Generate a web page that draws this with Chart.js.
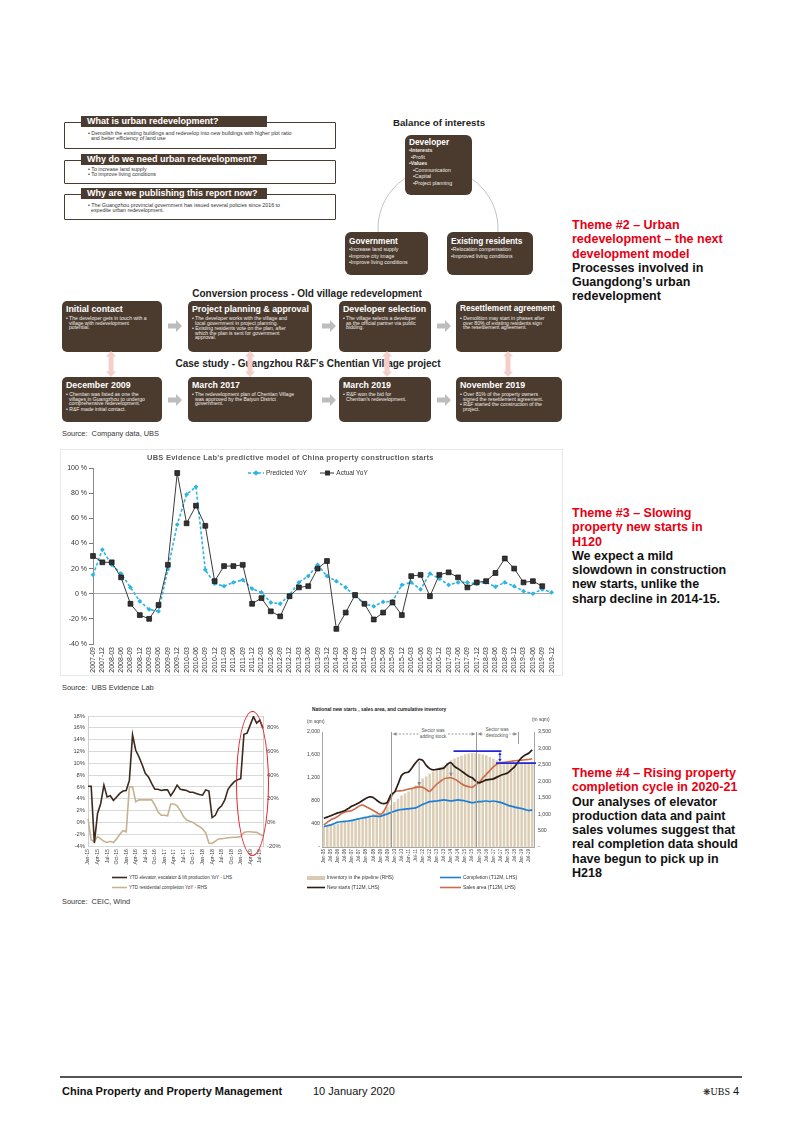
<!DOCTYPE html>
<html><head><meta charset="utf-8">
<script src="https://cdn.jsdelivr.net/npm/chart.js@4.4.1/dist/chart.umd.min.js"></script>
<style>
html,body{margin:0;padding:0;background:#fff;}
body{width:802px;height:1133px;position:relative;overflow:hidden;font-family:"Liberation Sans",Arial,sans-serif;color:#222;}
.a{position:absolute;white-space:nowrap;}
.frame{position:absolute;border:1.4px solid #4b3b2f;box-sizing:border-box;border-radius:1px;}
.hdr{position:absolute;background:#4b3b2f;color:#fff;font-weight:bold;font-size:9px;height:11px;line-height:11px;padding-left:6px;box-sizing:border-box;white-space:nowrap;width:186px;left:81px;}
.bt{position:absolute;font-size:5.3px;line-height:5.2px;color:#333;white-space:nowrap;left:88px;}
.box{position:absolute;background:#4b3b2f;color:#fff;border-radius:5px;box-sizing:border-box;padding:3px 4px 0 4px;overflow:hidden;}
.box .t{font-weight:bold;font-size:8.8px;line-height:10px;white-space:nowrap;}
.box .b{font-size:5.1px;line-height:4.7px;margin-top:2px;color:#f0ece8;white-space:nowrap;padding-left:3px;text-indent:-3px;}
.bal{position:absolute;background:#4b3b2f;color:#fff;border-radius:6px;box-sizing:border-box;padding:4px 4px 0 4px;}
.bal .t{font-weight:bold;font-size:8.3px;line-height:10px;white-space:nowrap;}
.bal .i{font-size:5.2px;line-height:6.5px;white-space:nowrap;color:#f0ece8;}
.ttl{position:absolute;font-weight:bold;font-size:10px;color:#222;white-space:nowrap;transform:translateX(-50%);}
.src{position:absolute;left:62px;font-size:7.4px;color:#333;white-space:nowrap;}
.theme{position:absolute;left:572px;font-weight:bold;font-size:12.5px;line-height:14.3px;white-space:nowrap;color:#111;}
.theme .r{color:#e60012;}
.lg{position:absolute;font-size:4.6px;color:#333;white-space:nowrap;line-height:6px;}
.sw{display:inline-block;vertical-align:middle;margin-right:2px;}
</style></head>
<body>

<!-- Top-left question boxes -->
<div class="frame" style="left:64px;top:121.5px;width:272px;height:27px"></div>
<div class="hdr" style="top:116px">What is urban redevelopment?</div>
<div class="bt" style="top:130.5px">• Demolish the existing buildings and redevelop into new buildings with higher plot ratio<br>&nbsp;&nbsp;and better efficiency of land use</div>
<div class="frame" style="left:64px;top:159.5px;width:272px;height:24px"></div>
<div class="hdr" style="top:154px">Why do we need urban redevelopment?</div>
<div class="bt" style="top:167px">• To increase land supply<br>• To improve living conditions</div>
<div class="frame" style="left:64px;top:193.5px;width:272px;height:26px"></div>
<div class="hdr" style="top:188px">Why are we publishing this report now?</div>
<div class="bt" style="top:203px">• The Guangzhou provincial government has issued several policies since 2016 to<br>&nbsp;&nbsp;expedite urban redevelopment.</div>

<!-- Balance of interests -->
<div class="ttl" style="left:439px;top:117px;font-size:9.7px">Balance of interests</div>
<svg class="a" style="left:0;top:0" width="802" height="300"><path d="M 378.1 232 A 60 60 0 1 1 497.9 232" fill="none" stroke="#c4c4c4" stroke-width="1"/></svg>
<div class="bal" style="left:405px;top:135px;width:67px;height:60px;padding-top:2px">
<div class="t">Developer</div>
<div class="i" style="margin-top:0"><b>•Interests</b></div>
<div class="i" style="padding-left:2px">•Profit</div>
<div class="i"><b>•Values</b></div>
<div class="i" style="padding-left:4px">•Communication</div>
<div class="i" style="padding-left:4px">•Capital</div>
<div class="i" style="padding-left:4px">•Project planning</div>
</div>
<div class="bal" style="left:345px;top:232px;width:83px;height:43px">
<div class="t">Government</div>
<div class="i">•Increase land supply</div>
<div class="i">•Improve city image</div>
<div class="i">•Improve living conditions</div>
</div>
<div class="bal" style="left:447px;top:232px;width:86px;height:43px">
<div class="t">Existing residents</div>
<div class="i">•Relocation compensation</div>
<div class="i">•Improved living conditions</div>
</div>

<!-- Conversion process -->
<div class="ttl" style="left:307px;top:288px">Conversion process - Old village redevelopment</div>
<div class="box" style="left:62px;top:301px;width:100px;height:51px"><div class="t">Initial contact</div>
<div class="b">• The developer gets in touch with a<br>village with redevelopment<br>potential.</div></div>
<div class="box" style="left:188px;top:301px;width:124px;height:51px"><div class="t">Project planning &amp; approval</div>
<div class="b">• The developer works with the village and<br>local government in project planning.</div>
<div class="b" style="margin-top:0.5px">• Existing residents vote on the plan, after<br>which the plan is sent for government<br>approval.</div></div>
<div class="box" style="left:339px;top:301px;width:92px;height:51px"><div class="t">Developer selection</div>
<div class="b">• The village selects a developer<br>as the official partner via public<br>bidding.</div></div>
<div class="box" style="left:456px;top:301px;width:106px;height:51px"><div class="t" style="font-size:8.2px">Resettlement agreement</div>
<div class="b">• Demolition may start in phases after<br>over 80% of existing residents sign<br>the resettlement agreement.</div></div>

<div class="ttl" style="left:308px;top:358px">Case study - Guangzhou R&amp;F's Chentian Village project</div>
<div class="box" style="left:62px;top:377px;width:100px;height:45px"><div class="t">December 2009</div>
<div class="b">• Chentian was listed as one the<br>villages in Guangzhou to undergo<br>comprehensive redevelopment.</div>
<div class="b" style="margin-top:0.5px">• R&amp;F made initial contact.</div></div>
<div class="box" style="left:188px;top:377px;width:124px;height:45px"><div class="t">March 2017</div>
<div class="b">• The redevelopment plan of Chentian Village<br>was approved by the Baiyun District<br>government.</div></div>
<div class="box" style="left:339px;top:377px;width:92px;height:45px"><div class="t">March 2019</div>
<div class="b">• R&amp;F won the bid for<br>Chentian's redevelopment.</div></div>
<div class="box" style="left:456px;top:377px;width:106px;height:45px"><div class="t">November 2019</div>
<div class="b">• Over 81% of the property owners<br>signed the resettlement agreement.</div>
<div class="b" style="margin-top:0.5px">• R&amp;F started the construction of the<br>project.</div></div>

<svg class="a" style="left:0;top:0" width="802" height="440">
<defs>
<polygon id="ga" points="0,3.5 8,3.5 8,0 14,6 8,12 8,8.5 0,8.5" fill="#bdbdbd"/>
<polygon id="pa" points="5,0 10,5.5 7.5,5.5 7.5,20.5 10,20.5 5,26 0,20.5 2.5,20.5 2.5,5.5 0,5.5" fill="#f5cdc9"/>
</defs>
<use href="#ga" x="168" y="320"/><use href="#ga" x="322" y="320"/><use href="#ga" x="437" y="320"/>
<use href="#ga" x="168" y="394"/><use href="#ga" x="322" y="394"/><use href="#ga" x="437" y="394"/>
<use href="#pa" x="106" y="351"/><use href="#pa" x="245" y="351"/><use href="#pa" x="382" y="351"/><use href="#pa" x="503" y="351"/>
</svg>
<div class="src" style="top:429px">Source:&nbsp; Company data, UBS</div>

<!-- Theme texts -->
<div class="theme" style="top:218px"><span class="r">Theme #2 – Urban<br>redevelopment – the next<br>development model</span><br>Processes involved in<br>Guangdong’s urban<br>redevelopment</div>
<div class="theme" style="top:506px"><span class="r">Theme #3 – Slowing<br>property new starts in<br>H120</span><br>We expect a mild<br>slowdown in construction<br>new starts, unlike the<br>sharp decline in 2014-15.</div>
<div class="theme" style="top:766px"><span class="r">Theme #4 – Rising property<br>completion cycle in 2020-21</span><br>Our analyses of elevator<br>production data and paint<br>sales volumes suggest that<br>real completion data should<br>have begun to pick up in<br>H218</div>

<!-- Middle chart -->
<div class="a" style="left:60px;top:449px;width:503px;height:227px;border:1px solid #e8e8e8;box-sizing:border-box"></div>
<canvas id="c2" class="a" style="left:60px;top:450px" width="503" height="226"></canvas>
<div class="a" style="left:147px;top:453px;font-size:7.5px;font-weight:bold;letter-spacing:0.25px;color:#5a5a5a">UBS Evidence Lab's predictive model of China property construction starts</div>
<div class="a" style="left:248px;top:469px;font-size:6.5px;color:#333;line-height:8px">
<svg class="sw" width="16" height="6" style="margin-top:-1px"><line x1="0" y1="3" x2="16" y2="3" stroke="#2db4e2" stroke-width="1.5" stroke-dasharray="3,2"/><rect x="6" y="1" width="4" height="4" transform="rotate(45 8 3)" fill="#2db4e2"/></svg>Predicted YoY
<span style="display:inline-block;width:10px"></span>
<svg class="sw" width="14" height="6" style="margin-top:-1px"><line x1="0" y1="3" x2="14" y2="3" stroke="#333" stroke-width="1"/><rect x="5" y="0.5" width="5" height="5" fill="#2e2e2e"/></svg>Actual YoY</div>
<div class="src" style="top:683px">Source:&nbsp; UBS Evidence Lab</div>

<!-- Bottom left chart -->
<canvas id="c3" class="a" style="left:60px;top:706px" width="235" height="166"></canvas>
<div class="a" style="left:236px;top:711px;width:33px;height:145px;border:1.5px solid #e3262b;border-radius:50%;box-sizing:border-box"></div>
<div class="lg" style="left:112px;top:875px"><svg class="sw" width="15" height="3"><line x1="0" y1="1.5" x2="15" y2="1.5" stroke="#3c2a1e" stroke-width="1.6"/></svg>YTD elevator, escalator &amp; lift production YoY - LHS</div>
<div class="lg" style="left:112px;top:885px"><svg class="sw" width="15" height="3"><line x1="0" y1="1.5" x2="15" y2="1.5" stroke="#c6b291" stroke-width="1.6"/></svg>YTD residential completion YoY - RHS</div>
<div class="src" style="top:897px">Source:&nbsp; CEIC, Wind</div>

<!-- Bottom right chart -->
<div class="a" style="left:312px;top:707px;font-size:4.9px;font-weight:bold;color:#222">National new starts , sales area, and cumulative inventory</div>
<div class="a" style="left:307px;top:719px;font-size:4.8px;color:#444">(m sqm)</div>
<div class="a" style="left:532px;top:717px;font-size:4.8px;color:#444">(m sqm)</div>
<canvas id="c4" class="a" style="left:298px;top:724px" width="262" height="146"></canvas>
<div class="a" style="left:433px;top:728px;font-size:4.7px;color:#555;line-height:6px;text-align:center;transform:translateX(-50%);background:#fff;padding:0 1px">Sector was<br>adding stock</div>
<div class="a" style="left:497px;top:727px;font-size:4.7px;color:#555;line-height:6px;text-align:center;transform:translateX(-50%);background:#fff;padding:0 1px">Sector was<br>destocking</div>
<div class="lg" style="left:307px;top:875px;font-size:4.9px"><svg class="sw" width="18" height="4"><rect x="0" y="0" width="18" height="4" fill="#d9cab2"/></svg>Inventory in the pipeline (RHS)</div>
<div class="lg" style="left:440px;top:875px;font-size:4.9px"><svg class="sw" width="21" height="3"><line x1="0" y1="1.5" x2="21" y2="1.5" stroke="#1b7fd6" stroke-width="1.6"/></svg>Completion (T12M, LHS)</div>
<div class="lg" style="left:307px;top:885px;font-size:4.9px"><svg class="sw" width="18" height="3"><line x1="0" y1="1.5" x2="18" y2="1.5" stroke="#2b1d15" stroke-width="1.6"/></svg>New starts (T12M, LHS)</div>
<div class="lg" style="left:440px;top:885px;font-size:4.9px"><svg class="sw" width="21" height="3"><line x1="0" y1="1.5" x2="21" y2="1.5" stroke="#cc6a4a" stroke-width="1.6"/></svg>Sales area (T12M, LHS)</div>

<!-- Footer -->
<div class="a" style="left:60px;top:1076px;width:682px;height:1.6px;background:#555"></div>
<div class="a" style="left:62px;top:1085px;font-size:11px;font-weight:bold;color:#111">China Property and Property Management</div>
<div class="a" style="left:313px;top:1085px;font-size:11px;color:#111">10 January 2020</div>
<div class="a" style="left:703px;top:1085px;font-size:11px;color:#111"><span style="font-family:'DejaVu Sans';font-size:9px">❋</span><span style="font-family:'Liberation Serif';font-size:10px">UBS</span> 4</div>

<script>
// ---------- Middle chart data ----------
const midLabels = ['2007-09','2007-12','2008-03','2008-06','2008-09','2008-12','2009-03','2009-06','2009-09','2009-12',
'2010-03','2010-06','2010-09','2010-12','2011-03','2011-06','2011-09','2011-12','2012-03','2012-06','2012-09','2012-12',
'2013-03','2013-06','2013-09','2013-12','2014-03','2014-06','2014-09','2014-12','2015-03','2015-06','2015-09','2015-12',
'2016-03','2016-06','2016-09','2016-12','2017-03','2017-06','2017-09','2017-12','2018-03','2018-06','2018-09','2018-12',
'2019-03','2019-06','2019-09','2019-12'];
const predictedYoY = [15,35,23,16,5,-6,-12.5,-14,19.5,55,79,85,19,8,6,9,11,4,1,-7,-8,-1,9,14,23,14,10,5,-2,-8,
-10,-6.5,-6,7,9,3.5,16,12,7,9,9,8,9,5.5,9,6,2,0,3.5,1];
const actualYoY = [30,25,25,13,-8,-17,-20,-9,23,96,56,70,54,10,22,22,23,-8,-3.5,-14,-18,-2,5,6,20,26,-28,-15,-1,-8,
-20.5,-15,-7,-17,14,15,-2,15,17,13,5,9,10,16.5,28,20,9,10,6,null];
const midTicks = [-40,-20,0,20,40,60,80,100];

// ---------- Bottom-left chart data ----------
const monthLabels = ['Jan-15','Feb-15','Mar-15','Apr-15','May-15','Jun-15','Jul-15','Aug-15','Sep-15','Oct-15','Nov-15','Dec-15',
'Jan-16','Feb-16','Mar-16','Apr-16','May-16','Jun-16','Jul-16','Aug-16','Sep-16','Oct-16','Nov-16','Dec-16',
'Jan-17','Feb-17','Mar-17','Apr-17','May-17','Jun-17','Jul-17','Aug-17','Sep-17','Oct-17','Nov-17','Dec-17',
'Jan-18','Feb-18','Mar-18','Apr-18','May-18','Jun-18','Jul-18','Aug-18','Sep-18','Oct-18','Nov-18','Dec-18',
'Jan-19','Feb-19','Mar-19','Apr-19','May-19','Jun-19','Jul-19','Aug-19'];
const elevatorYoY = [6.1,6.1,-3.5,1.5,3.2,6.3,4.3,4.5,3.7,4.3,4.9,5.3,
5.4,7.1,14.8,12.2,11.1,9.8,8.3,7.7,6.6,5.6,5.6,5.4,
5.5,5.5,4.5,5.3,6.3,5.6,5.5,5.4,5.1,5.1,4.9,4.7,
4.6,5.5,5.3,0.8,1.2,2.3,2.8,3.8,5.6,6.3,6.9,7.2,
7.4,14.9,15.1,16.5,17.9,16.8,17.3,15.9];
const completionYoY = [3,-15,-16,-12,-14,-16,-17,-16,-17,-14,-10,-7,
-8,30,30,17.5,19,19,19,19,19,14.7,9,6,
6,5.5,15.6,15.6,14,10,5,2,1,0,-2,-3.5,
-5.5,-9,-17.5,-17.8,-16,-14,-13.8,-13.5,-13,-12.8,-12.6,-12.5,
-12,-8.5,-8,-8,-8.3,-8.5,-10,-11.5];

// ---------- Bottom-right chart data ----------
const quarterLabels = ['Jan-05','Apr-05','Jul-05','Oct-05','Jan-06','Apr-06','Jul-06','Oct-06','Jan-07','Apr-07','Jul-07','Oct-07',
'Jan-08','Apr-08','Jul-08','Oct-08','Jan-09','Apr-09','Jul-09','Oct-09','Jan-10','Apr-10','Jul-10','Oct-10',
'Jan-11','Apr-11','Jul-11','Oct-11','Jan-12','Apr-12','Jul-12','Oct-12','Jan-13','Apr-13','Jul-13','Oct-13',
'Jan-14','Apr-14','Jul-14','Oct-14','Jan-15','Apr-15','Jul-15','Oct-15','Jan-16','Apr-16','Jul-16','Oct-16',
'Jan-17','Apr-17','Jul-17','Oct-17','Jan-18','Apr-18','Jul-18','Oct-18','Jan-19','Apr-19','Jul-19','Oct-19'];
const inventoryRHS = [608,630,660,685,710,735,760,785,810,835,860,885,
910,960,1010,1030,1045,1120,1215,1290,1370,1470,1570,1630,
1690,1780,1875,1980,2080,2150,2230,2300,2380,2430,2480,2560,
2640,2690,2740,2780,2820,2845,2860,2855,2840,2815,2790,2740,
2690,2640,2590,2560,2535,2535,2535,2550,2565,2575,2590,2590];
const newStarts = [500,520,545,570,593,612,634,672,711,740,770,810,
847,871,860,812,770,753,780,910,950,1090,1244,1290,
1304,1380,1464,1525,1505,1420,1363,1340,1351,1360,1375,1440,
1465,1400,1363,1320,1274,1230,1203,1150,1114,1140,1167,1175,
1185,1215,1244,1265,1286,1340,1393,1480,1553,1600,1630,1690];
const salesArea = [385,430,474,500,533,580,610,622,634,670,711,729,
700,670,634,600,565,620,741,860,960,975,978,990,
1007,1020,1037,1045,1037,1000,966,1030,1096,1140,1185,1200,
1203,1180,1144,1100,1067,1050,1037,1080,1126,1200,1262,1330,
1393,1440,1464,1475,1482,1490,1499,1505,1511,1518,1523,1535];
const completionArea = [356,370,385,410,433,440,444,452,462,478,492,505,
516,530,539,535,533,555,575,600,622,640,652,660,
664,672,681,710,741,765,788,795,800,810,818,810,
800,810,818,810,800,785,770,780,788,795,800,790,
800,790,776,755,729,710,693,680,670,650,634,645];

Chart.defaults.font.family = '"Liberation Sans", Arial, sans-serif';
Chart.defaults.color = '#333';

// ---------- Middle chart ----------
new Chart(document.getElementById('c2'), {
  type: 'line',
  data: { labels: midLabels, datasets: [
    { label: 'Predicted YoY', data: predictedYoY, order: 1, borderColor: '#2db4e2', backgroundColor: '#2db4e2',
      borderWidth: 1.6, borderDash: [3, 2], pointStyle: 'rectRot', pointRadius: 2.4, pointBorderWidth: 0,
      pointBackgroundColor: '#2db4e2', tension: 0 },
    { label: 'Actual YoY', data: actualYoY, order: 0, borderColor: '#3b3b3b', backgroundColor: '#2e2e2e',
      borderWidth: 1, pointStyle: 'rect', pointRadius: 3.4, pointBackgroundColor: '#333', pointBorderColor: '#111',
      pointBorderWidth: 0.7, tension: 0 }
  ]},
  options: {
    responsive: false, animation: false, events: [],
    layout: { padding: { top: 18, right: 9, left: 0, bottom: 0 } },
    plugins: { legend: { display: false }, tooltip: { enabled: false } },
    scales: {
      x: { grid: { display: false, drawTicks: false }, border: { display: false },
           ticks: { autoSkip: false, maxRotation: 90, minRotation: 90, padding: 3, color: '#333', font: { size: 7 } },
           afterFit: s => { s.height = 32; } },
      y: { min: -40, max: 100,
           afterBuildTicks: s => { s.ticks = midTicks.map(v => ({ value: v })); },
           ticks: { callback: v => v + ' %', color: '#333', font: { size: 7 }, padding: 2 },
           grid: { color: c => (c.tick && c.tick.value === 0) ? '#a8a8a8' : 'rgba(0,0,0,0)', tickColor: '#777', tickLength: 4, drawTicks: true },
           border: { display: true, color: '#8c8c8c' },
           afterFit: s => { s.width = 33; } }
    }
  }
});

// ---------- Bottom-left chart ----------
new Chart(document.getElementById('c3'), {
  type: 'line',
  data: { labels: monthLabels, datasets: [
    { label: 'YTD elevator, escalator & lift production YoY - LHS', data: elevatorYoY, yAxisID: 'y',
      borderColor: '#3c2a1e', borderWidth: 1.6, pointRadius: 0, tension: 0 },
    { label: 'YTD residential completion YoY - RHS', data: completionYoY, yAxisID: 'y1',
      borderColor: '#c6b291', borderWidth: 1.6, pointRadius: 0, tension: 0 }
  ]},
  options: {
    responsive: false, animation: false, events: [],
    layout: { padding: { top: 10, right: 0, left: 0, bottom: 0 } },
    plugins: { legend: { display: false }, tooltip: { enabled: false } },
    scales: {
      x: { grid: { display: false, drawTicks: false }, border: { display: false },
           ticks: { autoSkip: false, maxRotation: 90, minRotation: 90, padding: 3, color: '#444', font: { size: 5.2 },
                    callback: function (v, i) { return i % 3 === 0 ? this.getLabelForValue(v) : ''; } },
           afterFit: s => { s.height = 26; } },
      y: { position: 'left', min: -4, max: 18,
           ticks: { stepSize: 2, callback: v => v + '%', color: '#444', font: { size: 5.8 }, padding: 3 },
           grid: { color: '#d9d9d9', drawTicks: false }, border: { display: true, color: '#cfcfcf' },
           afterFit: s => { s.width = 28; } },
      y1: { position: 'right', min: -20, max: 90,
           ticks: { stepSize: 20, callback: v => v === 90 ? '' : v + '%', color: '#444', font: { size: 5.8 }, padding: 4 },
           grid: { display: false, drawTicks: false }, border: { display: true, color: '#cfcfcf' },
           afterFit: s => { s.width = 32; } }
    }
  }
});

// ---------- Bottom-right chart ----------
const annot = {
  id: 'annot',
  afterDatasetsDraw(chart) {
    const { ctx, chartArea: ca } = chart;
    const x = chart.scales.x, y = chart.scales.y, yr = chart.scales.y1;
    ctx.save();
    ctx.strokeStyle = '#9a9a9a'; ctx.fillStyle = '#8a8a8a'; ctx.lineWidth = 1;
    const sepA = Math.round(x.getPixelForValue(19)) + 0.5;
    const sepB = Math.round(x.getPixelForValue(43)) + 0.5;
    const sepC = Math.round(x.getPixelForValue(55)) + 0.5;
    [sepA, sepB].forEach(px => { ctx.beginPath(); ctx.moveTo(px, ca.top); ctx.lineTo(px, ca.bottom); ctx.stroke(); });
    ctx.beginPath(); ctx.moveTo(sepC, ca.top); ctx.lineTo(sepC, ca.top + 12); ctx.stroke();
    function hArrow(x1, x2, yy) {
      ctx.setLineDash([2, 1.5]);
      ctx.beginPath(); ctx.moveTo(x1 + 3, yy); ctx.lineTo(x2 - 3, yy); ctx.stroke();
      ctx.setLineDash([]);
      ctx.beginPath(); ctx.moveTo(x1, yy); ctx.lineTo(x1 + 4, yy - 1.8); ctx.lineTo(x1 + 4, yy + 1.8); ctx.closePath(); ctx.fill();
      ctx.beginPath(); ctx.moveTo(x2, yy); ctx.lineTo(x2 - 4, yy - 1.8); ctx.lineTo(x2 - 4, yy + 1.8); ctx.closePath(); ctx.fill();
    }
    hArrow(sepA + 1, sepB - 1, ca.top + 2);
    hArrow(sepB + 1, sepC - 1, ca.top + 2);
    [27, 36].forEach(i => {
      const px = x.getPixelForValue(i);
      const y0 = y.getPixelForValue(newStarts[i]) + 2;
      const y1p = y.getPixelForValue(salesArea[i]) - 1;
      ctx.beginPath(); ctx.moveTo(px, y0); ctx.lineTo(px, y1p - 3); ctx.stroke();
      ctx.beginPath(); ctx.moveTo(px, y1p); ctx.lineTo(px - 1.8, y1p - 4); ctx.lineTo(px + 1.8, y1p - 4); ctx.closePath(); ctx.fill();
    });
    ctx.strokeStyle = '#2626d6'; ctx.fillStyle = '#2626d6'; ctx.lineWidth = 1.8;
    const yTop = yr.getPixelForValue(2920), yLow = yr.getPixelForValue(2555);
    ctx.beginPath(); ctx.moveTo(x.getPixelForValue(37) - 1, yTop); ctx.lineTo(x.getPixelForValue(50) + 1, yTop); ctx.stroke();
    ctx.beginPath(); ctx.moveTo(x.getPixelForValue(49) - 1, yLow); ctx.lineTo(ca.right + 2, yLow); ctx.stroke();
    const va = x.getPixelForValue(50) - 0.5;
    ctx.lineWidth = 1;
    ctx.beginPath(); ctx.moveTo(va, yTop + 3); ctx.lineTo(va, yLow - 3); ctx.stroke();
    ctx.beginPath(); ctx.moveTo(va, yTop + 1); ctx.lineTo(va - 1.6, yTop + 4); ctx.lineTo(va + 1.6, yTop + 4); ctx.closePath(); ctx.fill();
    ctx.beginPath(); ctx.moveTo(va, yLow - 1); ctx.lineTo(va - 1.6, yLow - 4); ctx.lineTo(va + 1.6, yLow - 4); ctx.closePath(); ctx.fill();
    ctx.restore();
  }
};
const fmtN = v => v === 0 ? '-' : v.toLocaleString('en-US');
new Chart(document.getElementById('c4'), {
  type: 'bar',
  data: { labels: quarterLabels, datasets: [
    { type: 'line', label: 'New starts (T12M, LHS)', data: newStarts, yAxisID: 'y', order: 0,
      borderColor: '#2b1d15', borderWidth: 1.7, pointRadius: 0, tension: 0.2 },
    { type: 'line', label: 'Sales area (T12M, LHS)', data: salesArea, yAxisID: 'y', order: 1,
      borderColor: '#cc6a4a', borderWidth: 1.6, pointRadius: 0, tension: 0.2 },
    { type: 'line', label: 'Completion (T12M, LHS)', data: completionArea, yAxisID: 'y', order: 2,
      borderColor: '#1b7fd6', borderWidth: 1.7, pointRadius: 0, tension: 0.2 },
    { type: 'bar', label: 'Inventory in the pipeline (RHS)', data: inventoryRHS, yAxisID: 'y1', order: 3,
      backgroundColor: '#dccdb5', borderWidth: 0, barPercentage: 0.72, categoryPercentage: 1.0 }
  ]},
  options: {
    responsive: false, animation: false, events: [],
    layout: { padding: { top: 8, right: 0, left: 0, bottom: 0 } },
    plugins: { legend: { display: false }, tooltip: { enabled: false } },
    scales: {
      x: { offset: true, grid: { display: false, drawTicks: false }, border: { display: true, color: '#a8a8a8' },
           ticks: { autoSkip: false, maxRotation: 90, minRotation: 90, padding: 2, color: '#444', font: { size: 4.7 },
                    callback: function (v) { const l = this.getLabelForValue(v); return (l.startsWith('Jan') || l.startsWith('Jul')) ? l : ''; } },
           afterFit: s => { s.height = 23; } },
      y: { position: 'left', min: 0, max: 2000,
           ticks: { stepSize: 400, callback: fmtN, color: '#444', font: { size: 5.2 }, padding: 2 },
           grid: { display: false, drawTicks: false }, border: { display: true, color: '#a8a8a8' },
           afterFit: s => { s.width = 24; } },
      y1: { position: 'right', min: 0, max: 3500,
           ticks: { stepSize: 500, callback: fmtN, color: '#444', font: { size: 5.2 }, padding: 4 },
           grid: { display: false, drawTicks: false }, border: { display: true, color: '#a8a8a8' },
           afterFit: s => { s.width = 26; } }
    }
  },
  plugins: [annot]
});
</script>
</body></html>
